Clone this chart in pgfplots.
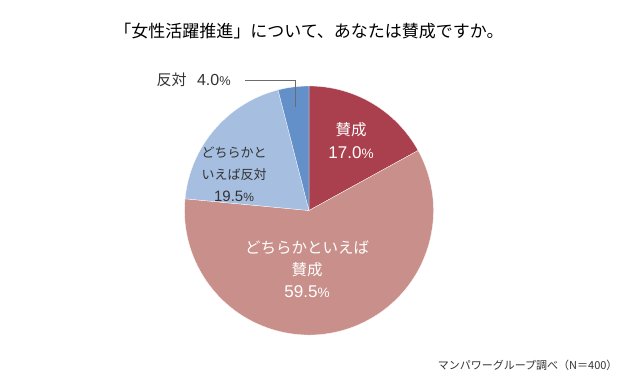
\documentclass[border=0pt]{standalone}
\usepackage{pgfplots}
\pgfplotsset{compat=1.18}
\usepackage{pgfplotstable}
\usepackage{fontspec}
\setmainfont{Noto Sans CJK JP}
\newfontfamily\num{Liberation Sans}
\definecolor{cA}{HTML}{AA3F4E}
\definecolor{cB}{HTML}{C98F8A}
\definecolor{cC}{HTML}{A6BEDF}
\definecolor{cD}{HTML}{6490C9}
\definecolor{txt}{HTML}{333333}
\pgfplotstableread{
label value
賛成 17.0
どちらかといえば賛成 59.5
どちらかといえば反対 19.5
反対 4.0
}\piedata
\pgfplotstablegetelem{0}{value}\of\piedata \let\vA\pgfplotsretval
\pgfplotstablegetelem{1}{value}\of\piedata \let\vB\pgfplotsretval
\pgfplotstablegetelem{2}{value}\of\piedata \let\vC\pgfplotsretval
\pgfplotstablegetelem{3}{value}\of\piedata \let\vD\pgfplotsretval
\pgfmathsetmacro\aA{90}
\pgfmathsetmacro\aB{\aA-3.6*\vA}
\pgfmathsetmacro\aC{\aB-3.6*\vB}
\pgfmathsetmacro\aD{\aC-3.6*\vC}
\pgfmathsetmacro\aE{\aD-3.6*\vD}
\newcommand{\pn}[2]{{\fontsize{#1}{#1}\selectfont\num #2{\fontsize{0.8em}{1em}\selectfont\%}}}
\begin{document}
\begin{tikzpicture}
\begin{axis}[x=1pt, y=1pt, xmin=0, xmax=629, ymin=0, ymax=390,
  hide axis, clip=false, scale only axis]
\path (axis cs:0,0) rectangle (axis cs:629,390);
\fill[cA, draw=white, line width=0.3pt] (axis cs:309,179.5) -- ++(\aA:124.5pt) arc[start angle=\aA, end angle=\aB, radius=124.5pt] -- cycle;
\fill[cB, draw=white, line width=0.3pt] (axis cs:309,179.5) -- ++(\aB:124.5pt) arc[start angle=\aB, end angle=\aC, radius=124.5pt] -- cycle;
\fill[cC, draw=white, line width=0.3pt] (axis cs:309,179.5) -- ++(\aC:124.5pt) arc[start angle=\aC, end angle=\aD, radius=124.5pt] -- cycle;
\fill[cD, draw=white, line width=0.3pt] (axis cs:309,179.5) -- ++(\aD:124.5pt) arc[start angle=\aD, end angle=\aE, radius=124.5pt] -- cycle;
% title
\node[font=\fontsize{17}{19}\selectfont, text=black] at (axis cs:309,359) {「女性活躍推進」について、あなたは賛成ですか。};
% labels
\node[font=\fontsize{15.5}{23}\selectfont, text=white, align=center] at (axis cs:351,249) {賛成\\\pn{17}{17.0}};
\node[font=\fontsize{15.5}{22}\selectfont, text=white, align=center] at (axis cs:307,121) {どちらかといえば\\賛成\\\pn{17}{59.5}};
\node[font=\fontsize{13}{22}\selectfont, text=txt, align=center] at (axis cs:234,216) {どちらかと\\いえば反対\\\pn{15}{19.5}};
\node[font=\fontsize{15}{17}\selectfont, text=txt, anchor=west] at (axis cs:153,310) {反対\hspace{0.7em}\pn{16}{4.0}};
\draw[gray!85!black, line width=0.6pt] (axis cs:245,309.5) -- (axis cs:295,309.5) -- (axis cs:295,283);
% footer
\node[font=\fontsize{11}{13}\selectfont, text=txt, anchor=east] at (axis cs:621,25) {マンパワーグループ調べ（N＝400）};
\end{axis}
\end{tikzpicture}
\end{document}
